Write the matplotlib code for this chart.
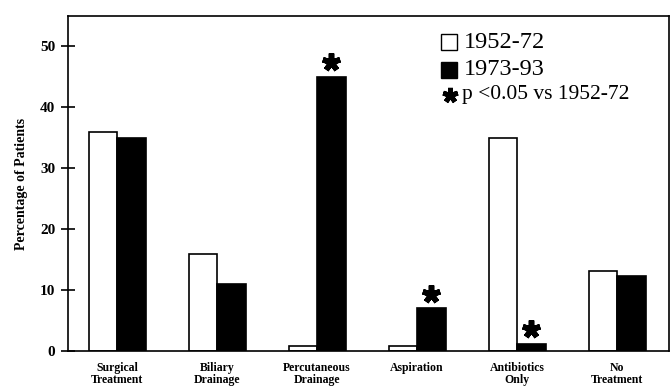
import matplotlib
matplotlib.use("Agg")
import matplotlib.pyplot as plt
import numpy as np

categories = ["Surgical\nTreatment", "Biliary\nDrainage", "Percutaneous\nDrainage",
              "Aspiration", "Antibiotics\nOnly", "No\nTreatment"]
early = [36, 16, 0.8, 0.8, 35, 13.2]      # 1952-72
late = [35, 11, 45, 7, 1.2, 12.3]         # 1973-93
significant = [False, False, True, True, True, False]
yticks = [0, 10, 20, 30, 40, 50]

serif = "Liberation Serif"
plt.rcParams["font.family"] = [serif, "DejaVu Serif"]

fig = plt.figure(figsize=(6.71, 3.88), dpi=100)
ax = fig.add_axes([68 / 671, 37 / 388, 601 / 671, 335 / 388])

x = np.arange(len(categories))
w = 0.285
ax.bar(x - w / 2, early, w, color="white", edgecolor="black", linewidth=1.2)
ax.bar(x + w / 2, late, w, color="black", edgecolor="black", linewidth=1.2)

star = (5, 2, 0)
for xi, v, s in zip(x, late, significant):
    if s:
        ax.plot(xi + w / 2, v + 2.4, marker=star, markersize=13,
                markeredgewidth=4, color="black")

ax.set_xlim(-0.49, 5.52)
ax.set_ylim(0, 55)
ax.set_yticks(yticks)
ax.set_yticklabels([str(t) for t in yticks], fontsize=11, fontweight="semibold")
ax.tick_params(axis="y", direction="inout", length=10, width=1.2, pad=4)
ax.set_xticks(x)
ax.set_xticklabels(categories, fontsize=8.5, fontweight="bold", linespacing=0.95)
ax.tick_params(axis="x", length=0, pad=8)
for sp in ax.spines.values():
    sp.set_linewidth(1.2)

ax.set_ylabel("Percentage of Patients", fontsize=10, fontweight="bold", labelpad=9)

# legend block
lx, tx = 0.634, 0.658
ax.plot(lx, 0.922, marker="s", markersize=12, markerfacecolor="white",
        markeredgecolor="black", markeredgewidth=1, transform=ax.transAxes, clip_on=False)
ax.text(tx, 0.922, "1952-72", fontsize=17.5, va="center", ha="left", transform=ax.transAxes)
ax.plot(lx, 0.839, marker="s", markersize=12, color="black",
        transform=ax.transAxes, clip_on=False)
ax.text(tx, 0.839, "1973-93", fontsize=17.5, va="center", ha="left", transform=ax.transAxes)
ax.plot(lx + 0.002, 0.765, marker=star, markersize=11, markeredgewidth=3.5,
        color="black", transform=ax.transAxes, clip_on=False)
ax.text(tx - 0.002, 0.765, "p <0.05 vs 1952-72", fontsize=15.5, va="center", ha="left",
        transform=ax.transAxes)

fig.savefig("out.png", dpi=100)
